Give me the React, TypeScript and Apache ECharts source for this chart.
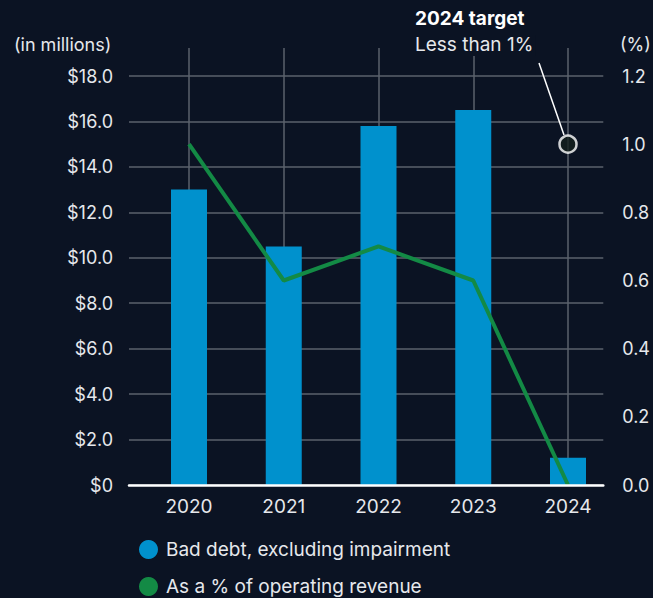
import React, { useEffect, useRef } from "react";
import * as echarts from "echarts";

const categories = ["2020", "2021", "2022", "2023", "2024"];
const badDebt = [13.0, 10.5, 15.8, 16.5, 1.2];
const pctRevenue = [1.0, 0.6, 0.7, 0.6, 0.0];
const target2024 = [["2024", 1.0]];
const leftTickMax = 18;
const leftTickStep = 2;
const rightTickMax = 1.2;
const rightTickStep = 0.2;

const BG = "#0b1323";
const TEXT = "#e6e8ec";
const GRID = "#5b626d";
const BLUE = "#0091cd";
const GREEN = "#138a45";
const FONT = "Inter, 'Noto Sans', sans-serif";

// plot geometry (pixels)
const PLOT_TOP = 76;
const PLOT_BOTTOM = 485;
const VLINE_TOP = 48;
const extendRatio = (PLOT_BOTTOM - VLINE_TOP) / (PLOT_BOTTOM - PLOT_TOP);

export default function App() {
  const ref = useRef<HTMLDivElement>(null);
  useEffect(() => {
    document.body.style.margin = "0";
    document.body.style.background = BG;
    const chart = echarts.init(ref.current!, null, { renderer: "svg" });
    const option: any = {
      animation: false,
      backgroundColor: BG,
      textStyle: { fontFamily: FONT },
      grid: [
        { left: 189, right: 653 - 568, top: VLINE_TOP, bottom: 598 - PLOT_BOTTOM },
        { left: 129, right: 653 - 604, top: PLOT_TOP, bottom: 598 - PLOT_BOTTOM },
      ],
      xAxis: [
        {
          type: "category",
          gridIndex: 0,
          data: categories,
          boundaryGap: false,
          axisLine: { show: false },
          axisTick: { show: false },
          axisLabel: { color: TEXT, fontSize: 19, fontFamily: FONT, margin: 12 },
          splitLine: { show: true, lineStyle: { color: GRID, width: 1.5 } },
        },
        {
          type: "value",
          gridIndex: 1,
          min: 0,
          max: 1,
          z: 5,
          axisLine: { show: true, lineStyle: { color: "#ffffff", width: 2.5 } },
          axisTick: { show: false },
          axisLabel: { show: false },
          splitLine: { show: false },
        },
      ],
      yAxis: [
        {
          type: "value",
          gridIndex: 0,
          min: 0,
          max: leftTickMax * extendRatio,
          show: false,
          splitLine: { show: false },
        },
        {
          type: "value",
          gridIndex: 0,
          min: 0,
          max: rightTickMax * extendRatio,
          show: false,
          splitLine: { show: false },
        },
        {
          type: "value",
          gridIndex: 1,
          position: "left",
          min: 0,
          max: leftTickMax,
          interval: leftTickStep,
          axisLine: { show: false },
          axisTick: { show: false },
          axisLabel: {
            color: TEXT,
            fontSize: 18,
            fontFamily: FONT,
            margin: 16,
            formatter: (v: number) => (v === 0 ? "$0" : "$" + v.toFixed(1)),
          },
          splitLine: { show: true, lineStyle: { color: GRID, width: 1.5 } },
        },
        {
          type: "value",
          gridIndex: 1,
          position: "right",
          min: 0,
          max: rightTickMax,
          interval: rightTickStep,
          axisLine: { show: false },
          axisTick: { show: false },
          axisLabel: {
            color: TEXT,
            fontSize: 18,
            fontFamily: FONT,
            margin: 19,
            formatter: (v: number) => v.toFixed(1),
          },
          splitLine: { show: false },
        },
      ],
      legend: {
        orient: "vertical",
        left: 139,
        top: 540,
        padding: 0,
        height: 80,
        itemWidth: 19,
        itemHeight: 19,
        itemGap: 18,
        icon: "circle",
        data: ["Bad debt, excluding impairment", "As a % of operating revenue"],
        textStyle: { color: TEXT, fontSize: 19, fontFamily: FONT, padding: [0, 0, 0, 3] },
      },
      series: [
        {
          name: "Bad debt, excluding impairment",
          type: "bar",
          xAxisIndex: 0,
          yAxisIndex: 0,
          data: badDebt,
          barWidth: 36,
          clip: false,
          itemStyle: { color: BLUE },
          z: 2,
        },
        {
          name: "As a % of operating revenue",
          type: "line",
          xAxisIndex: 0,
          yAxisIndex: 1,
          data: pctRevenue,
          clip: false,
          symbol: "none",
          lineStyle: { color: GREEN, width: 4 },
          itemStyle: { color: GREEN },
          z: 3,
        },
        {
          name: "2024 target",
          type: "scatter",
          xAxisIndex: 0,
          yAxisIndex: 1,
          data: target2024,
          symbol: "circle",
          symbolSize: 17,
          itemStyle: { color: "#14211d", borderColor: "#ffffff", borderWidth: 2.5 },
          z: 6,
        },
      ],
      graphic: [
        {
          type: "text",
          left: 14,
          top: 35,
          style: { text: "(in millions)", fill: TEXT, fontSize: 18, fontFamily: FONT },
        },
        {
          type: "text",
          left: 620,
          top: 35,
          style: { text: "(%)", fill: TEXT, fontSize: 18, fontFamily: FONT },
        },
        {
          type: "line",
          shape: { x1: 539, y1: 63, x2: 564, y2: 135 },
          style: { stroke: "#ffffff", lineWidth: 1.5 },
          z: 10,
        },
        {
          type: "text",
          left: 413,
          top: 35,
          z: 10,
          style: {
            text: "Less than 1%",
            fill: TEXT,
            fontSize: 19,
            fontFamily: FONT,
            backgroundColor: BG,
            padding: [0, 2, 2, 2],
          },
        },
        {
          type: "text",
          left: 415,
          top: 9,
          z: 10,
          style: { text: "2024 target", fill: "#ffffff", fontSize: 19, fontWeight: "bold", fontFamily: FONT },
        },
      ],
    };
    chart.setOption(option);
    return () => chart.dispose();
  }, []);
  return <div ref={ref} style={{ width: 653, height: 598 }} />;
}
